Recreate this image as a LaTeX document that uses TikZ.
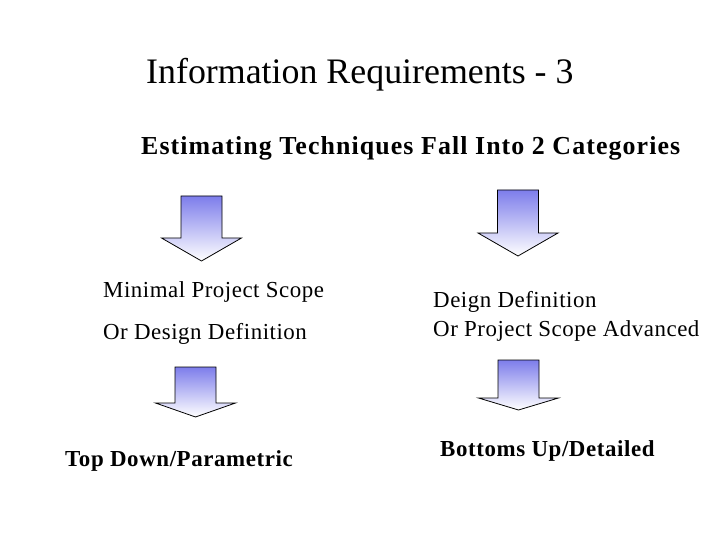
\documentclass[tikz,border=0pt]{standalone}
\usepackage{fontspec}
\setmainfont{Liberation Serif}
\usetikzlibrary{positioning}
\definecolor{arrowblue}{RGB}{125,125,235}
\tikzset{
     slidetitle/.style={
           anchor=base west,
           inner sep=0pt,
           font={\fontsize{36}{40}\selectfont},
           },
     heading/.style={
           anchor=base west,
           inner sep=0pt,
           font={\fontsize{26}{30}\selectfont\bfseries\addfontfeatures{LetterSpace=4.2}},
           },
     category/.style={
           anchor=base west,
           inner sep=0pt,
           font={\fontsize{23}{27}\selectfont\addfontfeatures{LetterSpace=2.3}},
           },
     result/.style={
           anchor=base west,
           inner sep=0pt,
           font={\fontsize{23}{27}\selectfont\bfseries\addfontfeatures{LetterSpace=2.6}},
           },
     blockarrow/.style={
           draw=black, line width=0.8pt,
           top color=arrowblue, middle color=arrowblue!30!white, bottom color=white,
           },
}
% block arrow: centre x, top y, head y, tip y
\newcommand{\downblock}[4]{%
  \path[blockarrow] (#1-20.5,#2) -- (#1+20.5,#2) -- (#1+20.5,#3) -- (#1+40,#3)
       -- (#1,#4) -- (#1-40,#3) -- (#1-20.5,#3) -- cycle;}

\begin{document}
\begin{tikzpicture}[x=1bp,y=-1bp]
	\useasboundingbox (0,0) rectangle (720,540);

	\node[slidetitle] (title) at (146,84) {Information Requirements - 3};
	\node[heading] (head) at (141,155) {Estimating Techniques Fall Into 2 Categories};

	%left column
	\node[category] (l1) at (103,297) {Minimal Project Scope};
	\node[category] (l2) at (103,339) {Or Design Definition};
	\node[result] (l3) at (65,466) {Top Down/Parametric};

	%right column
	\node[category] (r1) at (433,307) {Deign Definition};
	\node[category] (r2) at (433,336) {Or Project Scope Advanced};
	\node[result] (r3) at (440,456) {Bottoms Up/Detailed};

	%arrows
	\downblock{201.5}{196}{238}{261}
	\downblock{518}{190}{233}{256}
	\downblock{195.5}{367}{403}{417}
	\downblock{518.5}{360}{398}{410}
\end{tikzpicture}
\end{document}
